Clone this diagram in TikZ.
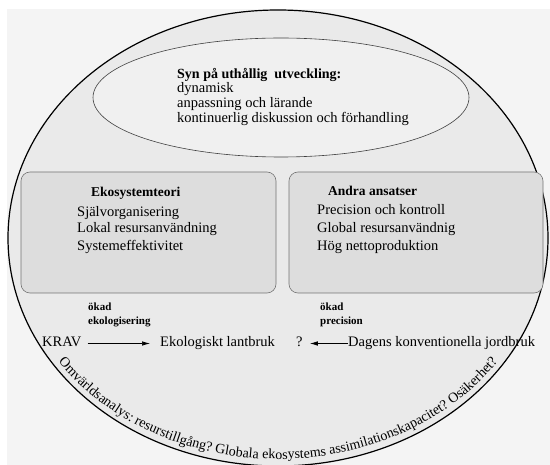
\documentclass[tikz,border=0pt]{standalone}
\usepackage{fontspec}
\setmainfont{Liberation Serif}
\usetikzlibrary{decorations.text,arrows.meta}
\definecolor{bakgrund}{HTML}{F4F4F4}
\definecolor{yttre}{HTML}{EAEAEA}
\definecolor{inre}{HTML}{F0F0F0}
\definecolor{rutfarg}{HTML}{DDDDDD}
\begin{document}
\begin{tikzpicture}[x=1pt,y=-1pt,>={Latex[length=8pt,width=4.5pt]},
  txt/.style={anchor=base west,inner sep=0pt,text height=10pt,text depth=3pt,font=\fontsize{14.5}{15}\selectfont},
  rubrik/.style={txt,font=\fontsize{13.5}{15}\selectfont\bfseries},
  liten/.style={txt,font=\fontsize{11}{12}\selectfont\bfseries},
  ruta/.style={draw=black!55,fill=rutfarg,rounded corners=9pt,line width=0.6pt}]
\useasboundingbox (0,0) rectangle (550,465);
\clip (0,0) rectangle (550,465);
\fill[bakgrund] (7,9) rectangle (550,465);
\draw[fill=yttre,line width=1.2pt] (278,238) ellipse (270 and 228);
\draw[fill=inre,draw=black!75,line width=0.6pt] (281,97.5) ellipse (188 and 59.5);
\draw[ruta] (21,172) rectangle (276,293);
\draw[ruta] (289,172) rectangle (543,293);

\node[rubrik,font=\fontsize{14}{15}\selectfont\bfseries] (syn) at (177,79) {Syn på uthållig~ utveckling:};
\node[txt] (dynamisk) at (177,93) {dynamisk};
\node[txt] (anpassning) at (177,108) {anpassning och lärande};
\node[txt] (kontinuerlig) at (177,123) {kontinuerlig diskussion och förhandling};

\node[rubrik] (ekoteori) at (91,197) {Ekosystemteori};
\node[txt] (sjalvorg) at (77,217) {Självorganisering};
\node[txt] (lokal) at (77,233) {Lokal resursanvändning};
\node[txt] (syseff) at (77,251) {Systemeffektivitet};

\node[rubrik] (andra) at (328,196) {Andra ansatser};
\node[txt] (precision) at (317,215) {Precision och kontroll};
\node[txt] (global) at (317,233) {Global resursanvändnig};
\node[txt] (hog) at (317,251) {Hög nettoproduktion};

\node[liten] (okad1) at (88,311) {ökad};
\node[liten] (ekolog) at (88,325) {ekologisering};
\node[liten] (okad2) at (320,311) {ökad};
\node[liten] (okprec) at (320,325) {precision};

\node[txt] (krav) at (42,347) {KRAV};
\node[txt] (ekolant) at (160,347) {Ekologiskt lantbruk};
\node[txt] (fraga) at (296,347) {?};
\node[txt] (dagens) at (348,347) {Dagens konventionella jordbruk};

\path[draw,->,line width=0.7pt,shorten <=6pt,shorten >=10pt] (krav) -- (ekolant);
\path[draw,->,line width=0.7pt,shorten >=7pt] (dagens) -- (fraga);

\path[decorate,decoration={text along path,text align=left,
  text={|\fontsize{14}{14}\selectfont|Omvärldsanalys: resurstillgång? Globala ekosystems assimilationskapacitet? Osäkerhet?}}]
  (58.3,361.6) arc[start angle=146,end angle=10,x radius=265,y radius=221];
\end{tikzpicture}
\end{document}
